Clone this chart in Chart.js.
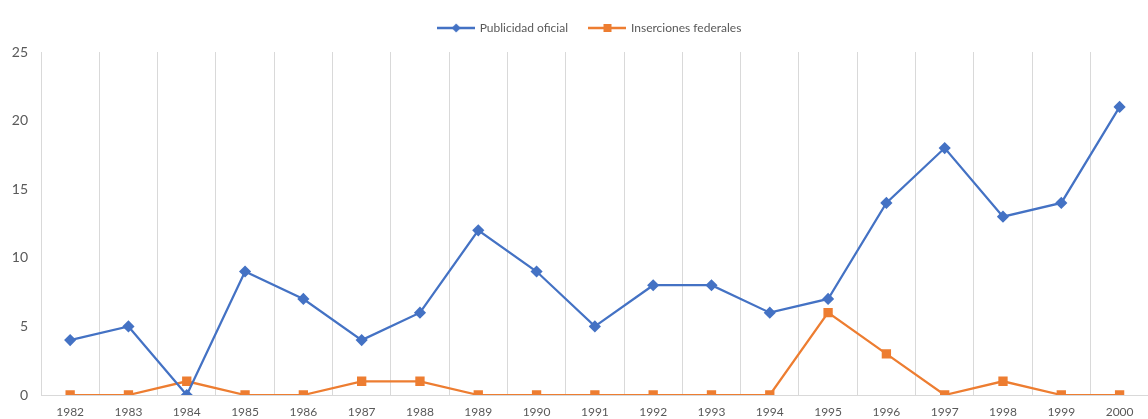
<!DOCTYPE html>
<html>
<head>
<meta charset="utf-8">
<script src="https://cdn.jsdelivr.net/npm/chart.js@4"></script>
<style>
  html, body { margin: 0; padding: 0; background: #fff; overflow: hidden; }
  #wrap { width: 1156px; height: 419px; }
</style>
</head>
<body>
<div id="wrap"><canvas id="c"></canvas></div>
<script>
// ── DATA ───────────────────────────────────────────────
const years       = ['1982','1983','1984','1985','1986','1987','1988','1989','1990','1991',
                     '1992','1993','1994','1995','1996','1997','1998','1999','2000'];
const publicidad  = [4, 5, 0, 9, 7, 4, 6, 12, 9, 5, 8, 8, 6, 7, 14, 18, 13, 14, 21];
const inserciones = [0, 0, 1, 0, 0, 1, 1, 0, 0, 0, 0, 0, 0, 6, 3, 0, 1, 0, 0];
const yTicks      = [0, 5, 10, 15, 20, 25];

const COLORS = {
  blue:   '#4472C4',
  orange: '#ED7D31',
  grid:   '#D9D9D9',
  text:   '#595959',
};
const FONT = 'Lato';

// legend swatch: a short line with the marker in the middle
function legendIcon(color, shape) {
  const cv = document.createElement('canvas');
  cv.width = 38; cv.height = 12;
  const g = cv.getContext('2d');
  g.strokeStyle = color; g.lineWidth = 2.5;
  g.beginPath(); g.moveTo(0, 6); g.lineTo(38, 6); g.stroke();
  g.fillStyle = color;
  if (shape === 'diamond') {
    g.beginPath(); g.moveTo(19, 1.5); g.lineTo(23.5, 6); g.lineTo(19, 10.5); g.lineTo(14.5, 6); g.closePath(); g.fill();
  } else {
    g.fillRect(15, 2, 8, 8);
  }
  return cv;
}

const icons = [legendIcon(COLORS.blue, 'diamond'), legendIcon(COLORS.orange, 'square')];

// fixed legend height, and nudge it right like the (cropped) original
const legendPlace = {
  id: 'legendPlace',
  beforeInit(chart) {
    const orig = chart.legend.fit;
    chart.legend.fit = function () { orig.call(this); this.height = 52; };
  },
  afterLayout(chart) {
    chart.legend.left += 12;
    chart.legend.right += 12;
  },
};

new Chart(document.getElementById('c'), {
  type: 'line',
  data: {
    labels: years,
    datasets: [
      {
        label: 'Publicidad oficial',
        data: publicidad,
        borderColor: COLORS.blue,
        backgroundColor: COLORS.blue,
        borderWidth: 2.25,
        pointStyle: 'rectRot',
        pointRadius: 4.5,
        tension: 0,
      },
      {
        label: 'Inserciones federales',
        data: inserciones,
        borderColor: COLORS.orange,
        backgroundColor: COLORS.orange,
        borderWidth: 2.25,
        pointStyle: 'rect',
        pointRadius: 5,
        tension: 0,
      },
    ],
  },
  plugins: [legendPlace],
  options: {
    responsive: true,
    maintainAspectRatio: false,
    animation: false,
    layout: { padding: 0 },
    plugins: {
      legend: {
        position: 'top',
        labels: {
          usePointStyle: true,
          pointStyleWidth: 35,
          color: COLORS.text,
          font: { family: FONT, size: 12 },
          padding: 22,
          generateLabels: chart => chart.data.datasets.map((ds, i) => ({
            text: ds.label,
            pointStyle: icons[i],
            fontColor: COLORS.text,
            strokeStyle: ds.borderColor,
            fillStyle: ds.backgroundColor,
            lineWidth: 0,
            datasetIndex: i,
          })),
        },
      },
      tooltip: { enabled: false },
    },
    scales: {
      x: {
        offset: true,
        grid: { display: true, offset: true, color: COLORS.grid, drawTicks: false },
        border: { display: true, color: COLORS.grid },
        ticks: { color: COLORS.text, font: { family: FONT, size: 12 }, padding: 10, maxRotation: 0, autoSkip: false },
        afterFit: s => { s.height = 24; },
      },
      y: {
        min: 0,
        max: 25,
        afterBuildTicks: s => { s.ticks = yTicks.map(v => ({ value: v })); },
        grid: { display: false, drawTicks: false },
        border: { display: false },
        ticks: { color: COLORS.text, font: { family: FONT, size: 14 }, padding: 13 },
        afterFit: s => { s.width = 41; },
      },
    },
  },
});
</script>
</body>
</html>
